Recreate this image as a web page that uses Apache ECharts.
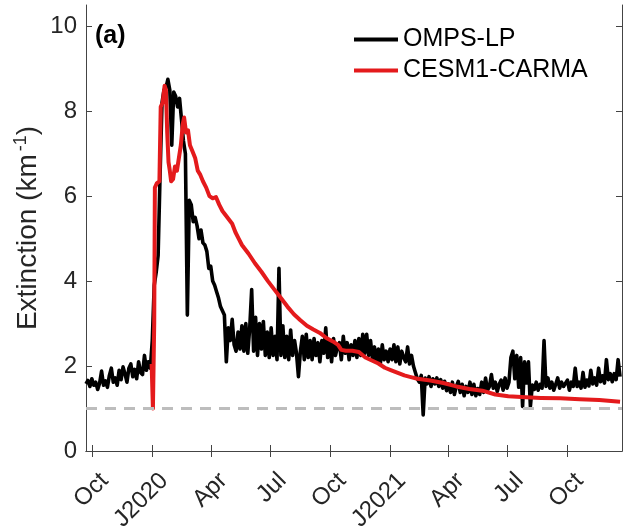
<!DOCTYPE html>
<html>
<head>
<meta charset="utf-8">
<script src="https://cdn.jsdelivr.net/npm/echarts@6/dist/echarts.min.js"></script>
<style>
html,body{margin:0;padding:0;background:#fff;}
#chart{width:623px;height:531px;}
</style>
</head>
<body>
<div id="chart"></div>
<script>
// ---------- data ----------
const xRange = ['2019-09-21', '2021-12-24'];
const yRange = [0, 10.5];
const yTicks = [0, 2, 4, 6, 8, 10];
const tickDates = ['2019-10-01','2020-01-01','2020-04-01','2020-07-01','2020-10-01','2021-01-01','2021-04-01','2021-07-01','2021-10-01'];
const tickLabels = ['Oct','J2020','Apr','Jul','Oct','J2021','Apr','Jul','Oct'];
const referenceLevel = 1.0;

// OMPS-LP observations, sampled every 3 days from blackStart
const blackName = 'OMPS-LP';
const blackStart = '2019-09-21';
const blackStepDays = 3;
const blackValues = [
  1.58,1.66,1.52,1.70,1.55,1.62,1.45,1.60,1.88,1.55,1.65,1.50,1.78,1.95,1.62,1.72,1.55,1.90,1.68,1.98,
  1.82,1.62,1.95,2.05,1.75,1.92,1.70,2.10,1.85,1.80,2.25,1.90,2.10,1.95,
  2.6,3.9,4.2,4.6,6.5,8.2,8.5,8.55,8.75,8.5,7.2,8.45,8.35,8.1,8.3,7.8,7.3,7.0,3.2,5.9,
  5.8,5.4,5.5,5.3,5.0,5.2,4.9,4.85,4.7,4.3,4.35,4.0,3.9,3.75,3.6,3.4,3.3,3.2,2.1,2.9,
  2.6,3.1,2.5,2.35,2.8,2.4,2.95,2.35,3.0,2.3,2.9,3.8,2.35,3.15,2.25,3.0,2.4,3.05,2.25,2.8,
  2.2,2.9,2.25,2.7,2.15,4.3,2.25,2.95,2.2,2.7,2.15,2.85,2.25,2.6,2.3,1.75,2.35,2.7,2.15,2.75,
  2.2,2.6,2.15,2.65,2.25,2.55,2.1,2.6,2.3,2.9,2.2,2.6,2.1,2.65,2.25,2.45,2.55,2.15,2.7,2.3,
  2.55,2.15,2.5,2.25,2.6,2.2,2.65,2.25,2.75,2.3,2.75,2.25,2.6,2.15,2.45,2.1,2.4,2.05,2.5,2.15,
  2.35,2.1,2.4,2.15,2.5,2.1,2.45,2.05,2.35,2.2,2.1,2.45,2.05,2.25,2.0,1.85,1.7,1.62,1.78,0.85,
  1.72,1.58,1.75,1.52,1.7,1.58,1.72,1.52,1.68,1.48,1.64,1.42,1.58,1.38,1.62,1.33,1.52,1.64,1.38,1.57,
  1.3,1.52,1.38,1.62,1.33,1.57,1.3,1.47,1.33,1.62,1.38,1.72,1.43,1.52,1.8,1.48,1.62,1.4,1.57,1.67,
  1.43,1.72,1.48,1.62,2.2,2.35,1.7,2.25,1.5,2.2,1.05,2.1,1.6,2.1,1.05,1.55,1.45,1.62,1.43,1.57,
  1.48,2.6,1.52,1.72,1.48,1.62,1.43,1.57,1.72,1.48,1.62,1.52,1.48,1.67,1.43,1.62,1.52,1.95,1.52,1.62,
  1.48,1.85,1.5,1.67,1.53,1.9,1.58,1.72,1.55,1.95,1.63,1.77,1.6,2.15,1.68,1.82,1.63,1.82,1.68,2.15,
  1.75
];

// CESM1-CARMA model
const redName = 'CESM1-CARMA';
const redDates = [
  '2019-12-31','2020-01-02','2020-01-04','2020-01-05','2020-01-08','2020-01-12','2020-01-14','2020-01-17',
  '2020-01-20','2020-01-22','2020-01-24','2020-01-26','2020-01-28','2020-01-30','2020-02-02','2020-02-05',
  '2020-02-08','2020-02-11','2020-02-14','2020-02-17','2020-02-19','2020-02-22','2020-02-25','2020-02-28',
  '2020-03-03','2020-03-07','2020-03-11','2020-03-15','2020-03-19','2020-03-24','2020-03-29','2020-04-03',
  '2020-04-08','2020-04-13','2020-04-18','2020-04-23','2020-04-28','2020-05-03','2020-05-08','2020-05-13',
  '2020-05-18','2020-05-28','2020-06-07','2020-06-17','2020-06-27','2020-07-07','2020-07-17','2020-07-27',
  '2020-08-06','2020-08-16','2020-08-26','2020-09-05','2020-09-15','2020-09-25','2020-10-05','2020-10-13',
  '2020-10-18','2020-10-25','2020-11-04','2020-11-14','2020-11-24','2020-12-04','2020-12-14','2020-12-24',
  '2021-01-03','2021-01-13','2021-01-23','2021-02-02','2021-02-12','2021-03-04','2021-03-24','2021-04-13',
  '2021-05-03','2021-05-23','2021-06-12','2021-07-02','2021-07-22','2021-08-21','2021-09-20','2021-10-20',
  '2021-11-19','2021-12-21'
];
const redValues = [
  2.05,1.0,3.0,6.2,6.3,6.35,8.1,8.2,
  8.6,8.5,7.5,6.8,6.6,6.35,6.4,6.7,
  6.6,6.9,7.2,7.7,7.85,7.5,7.55,7.2,
  7.05,6.9,6.6,6.5,6.35,6.2,6.0,5.95,
  5.98,5.8,5.65,5.55,5.45,5.35,5.15,5.0,
  4.85,4.65,4.42,4.22,4.0,3.8,3.6,3.4,
  3.22,3.08,2.95,2.86,2.78,2.66,2.58,2.5,
  2.38,2.36,2.36,2.33,2.2,2.13,2.06,1.96,
  1.9,1.84,1.78,1.74,1.7,1.66,1.6,1.52,
  1.46,1.42,1.33,1.29,1.27,1.25,1.24,1.22,
  1.2,1.16
];

// ---------- helpers ----------
function ts(s){ const p = s.split('-').map(Number); return Date.UTC(p[0], p[1]-1, p[2]); }
const DAY = 86400000;
const blackData = blackValues.map((v,i)=>[ts(blackStart) + i*blackStepDays*DAY, v]);
const redData = redValues.map((v,i)=>[ts(redDates[i]), v]);
const tickTs = tickDates.map(ts);
const FONT = 'Liberation Sans, Arial, Helvetica, sans-serif';
const AX = '#444';
const TXT = '#262626';

const chart = echarts.init(document.getElementById('chart'), null, {renderer:'canvas'});
chart.setOption({
  animation: false,
  backgroundColor: '#fff',
  grid: {left: 86, right: 1, top: 5, bottom: 80, containLabel: false, outerBoundsMode: 'none'},
  legend: {
    orient: 'vertical', left: 349, top: 22, itemGap: 6,
    icon: 'rect', itemWidth: 44, itemHeight: 4,
    textStyle: {fontSize: 25, color: '#000', fontFamily: FONT},
    data: [blackName, redName]
  },
  graphic: [{
    type: 'text', left: 95, top: 24,
    style: {text: '(a)', font: 'bold 25px ' + FONT, fill: '#000'}
  }],
  xAxis: [{
    type: 'value', min: ts(xRange[0]), max: ts(xRange[1]),
    axisLine: {show: true, lineStyle: {color: AX, width: 1}},
    axisTick: {show: true, inside: true, length: 6, customValues: tickTs, lineStyle: {color: AX}},
    axisLabel: {
      customValues: tickTs, rotate: 45, margin: 14, fontSize: 24, color: TXT, fontFamily: FONT,
      align: 'right', verticalAlign: 'top', padding: [5, 0, 0, 0],
      formatter: function(v){ const k = tickTs.indexOf(v); return k >= 0 ? tickLabels[k] : ''; }
    },
    splitLine: {show: false}
  },{
    type: 'value', position: 'top', min: ts(xRange[0]), max: ts(xRange[1]),
    axisLine: {show: true, lineStyle: {color: AX, width: 1}},
    axisTick: {show: true, inside: true, length: 6, customValues: tickTs, lineStyle: {color: AX}},
    axisLabel: {show: false}, splitLine: {show: false}
  }],
  yAxis: [{
    type: 'value', min: yRange[0], max: yRange[1], interval: 2,
    name: 'Extinction (km{sup|-1})', nameLocation: 'middle', nameGap: 42, nameMoveOverlap: false,
    nameTextStyle: {fontSize: 28, color: TXT, fontFamily: FONT,
      rich: {sup: {fontSize: 18, color: TXT, fontFamily: FONT, verticalAlign: 'top', padding: [0,0,14,3]}}},
    axisLine: {show: true, lineStyle: {color: AX, width: 1}},
    axisTick: {show: true, inside: true, length: 6, customValues: yTicks, lineStyle: {color: AX}},
    axisLabel: {customValues: yTicks, margin: 9, fontSize: 24, color: TXT, fontFamily: FONT},
    splitLine: {show: false}
  },{
    type: 'value', position: 'right', min: yRange[0], max: yRange[1], interval: 2,
    axisLine: {show: true, lineStyle: {color: AX, width: 1}},
    axisTick: {show: true, inside: true, length: 6, customValues: yTicks, lineStyle: {color: AX}},
    axisLabel: {show: false}, splitLine: {show: false}
  }],
  series: [{
    name: blackName, type: 'line', data: blackData, showSymbol: false, symbol: 'none',
    lineStyle: {color: '#000', width: 3.6, join: 'round'}, itemStyle: {color: '#000'}, z: 3,
    markLine: {
      silent: true, symbol: 'none', label: {show: false},
      lineStyle: {color: '#bdbdbd', type: [11, 8], width: 3},
      data: [{yAxis: referenceLevel}]
    }
  },{
    name: redName, type: 'line', data: redData, showSymbol: false, symbol: 'none',
    lineStyle: {color: '#e41a1c', width: 4, join: 'round'}, itemStyle: {color: '#e41a1c'}, z: 4
  }]
});
</script>
</body>
</html>
